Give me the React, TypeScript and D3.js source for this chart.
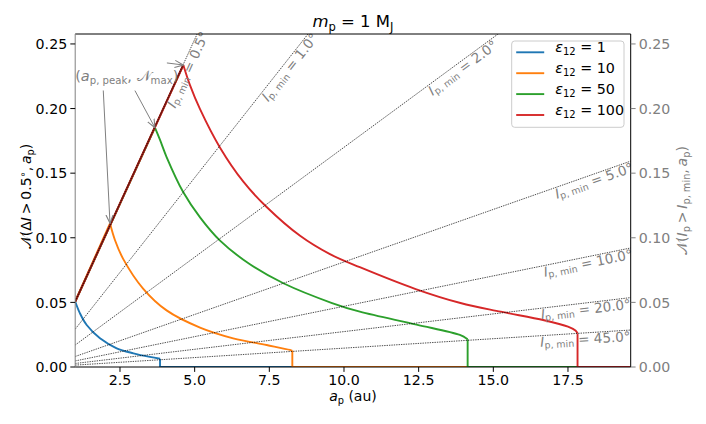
import React from 'react';
import * as d3 from 'd3';

const W = 706;
const H = 424;

// axes
const xDomain = [1, 19.6];
const yDomain = [0, 0.2577];
const xTicks = [2.5, 5, 7.5, 10, 12.5, 15, 17.5];
const yTicks = [0, 0.05, 0.1, 0.15, 0.2, 0.25];

// series (epsilon_12)
const epsLabels = ['1', '10', '50', '100'];
const colors = ['#1f77b4', '#ff7f0e', '#2ca02c', '#d62728'];
const startN = 0.0507; // value at a_p = 1

const blueA = [1, 1.16, 1.385, 1.83, 2.39, 2.95, 3.5, 3.84];
const blueN = [0.0507, 0.0415, 0.0325, 0.0222, 0.0145, 0.0106, 0.0078, 0.0064];

const orangeA = [2.165, 2.33, 2.61, 3.28, 4.06, 5.18, 6.29, 7.41, 8.19, 8.27];
const orangeN = [0.1112, 0.0983, 0.0835, 0.0605, 0.0438, 0.0305, 0.0222, 0.017, 0.0132, 0.0125];

const greenA = [3.67, 3.84, 4.06, 4.62, 5.18, 5.85, 6.85, 7.97, 9.6, 10.53, 12.43, 13.88, 14.14];
const greenN = [0.1852, 0.1757, 0.1625, 0.1352, 0.1158, 0.0978, 0.0795, 0.0648, 0.0495, 0.0428, 0.0328, 0.0248, 0.0215];

const redA = [4.62, 4.84, 5.18, 5.85, 6.63, 7.41, 8.53, 9.53, 10.53, 12.4, 13.9, 15.25, 16.7, 17.5, 17.75, 17.82];
const redN = [0.2337, 0.2183, 0.1995, 0.1697, 0.1434, 0.1238, 0.1015, 0.0873, 0.0772, 0.0603, 0.0495, 0.0428, 0.0362, 0.0312, 0.0282, 0.026];

const seriesA = [blueA, orangeA, greenA, redA];
const seriesN = [blueN, orangeN, greenN, redN];

// reference lines N = slope * a_p
const ipLabels = ['0.5', '1.0', '2.0', '5.0', '10.0', '20.0', '45.0'];
const ipSlopes = [0.0507, 0.0293, 0.017, 0.00813, 0.0047, 0.00274, 0.00146];
const ipLabelA = [4.58, 8.02, 13.85, 18.3, 18.13, 18.07, 18.07];

// annotation arrow tails (data coords) pointing at peaks of eps = 10, 50, 100
const arrowTailA = [1.94, 3.0, 4.07];
const arrowTailN = [0.214, 0.2139, 0.2353];

const M = { left: 75.2, right: 630.7, top: 34, bottom: 367 };
const GRAY = '#808080';
const FONT = "'DejaVu Sans', sans-serif";
const TS = '\u2009';
const LW = 1.9;

type Part = { t: string; i?: boolean; sub?: boolean; sup?: boolean };

function MathParts({ parts, size }: { parts: Part[]; size: number }) {
  const out: any[] = [];
  let shift = 0;
  parts.forEach((p, k) => {
    const target = p.sub ? size * 0.22 : p.sup ? -size * 0.38 : 0;
    const dy = target - shift;
    shift = target;
    out.push(
      <tspan
        key={k}
        dy={dy}
        fontStyle={p.i ? 'italic' : 'normal'}
        fontSize={p.sub || p.sup ? size * 0.7 : size}
      >
        {p.t}
      </tspan>
    );
  });
  return <>{out}</>;
}

export default function App() {
  const x = d3.scaleLinear().domain(xDomain).range([M.left, M.right]);
  const y = d3.scaleLinear().domain(yDomain).range([M.bottom, M.top]);
  const kx = x(2) - x(1);
  const ky = y(0) - y(1);

  const lineLin = d3
    .line<[number, number]>()
    .x((d) => x(d[0]))
    .y((d) => y(d[1]));
  const lineSmooth = d3
    .line<[number, number]>()
    .x((d) => x(d[0]))
    .y((d) => y(d[1]))
    .curve(d3.curveCatmullRom.alpha(0.5));

  const peaks = seriesA.map((A, i) => [A[0], seriesN[i][0]] as [number, number]);

  const tickStyle = { fontFamily: FONT, fontSize: 14.2 };

  return (
    <svg
      width={W}
      height={H}
      style={{ position: 'fixed', left: 0, top: 0, background: '#fff' }}
      fontFamily={FONT}
    >
      <defs>
        <clipPath id="plot">
          <rect x={M.left} y={M.top} width={M.right - M.left} height={M.bottom - M.top} />
        </clipPath>
        <marker id="arr" viewBox="0 0 10 10" refX="9.5" refY="5" markerWidth="9" markerHeight="9" orient="auto" markerUnits="userSpaceOnUse">
          <path d="M0,1 L9.5,5 L0,9" fill="none" stroke={GRAY} strokeWidth={1.2} />
        </marker>
      </defs>
      <rect x={0} y={0} width={W} height={H} fill="#fff" />

      <g clipPath="url(#plot)">
        {seriesA.map((A, i) => {
          const N = seriesN[i];
          const pts = A.map((a, k) => [a, N[k]] as [number, number]);
          const last = A[A.length - 1];
          const rising: [number, number][] = [
            [xDomain[0], startN],
            [A[0], N[0]],
          ];
          const tail: [number, number][] = [
            [last, N[N.length - 1]],
            [last, 0],
            [xDomain[1] + 1, 0],
          ];
          return (
            <g key={i} fill="none" stroke={colors[i]} strokeWidth={LW} strokeLinejoin="round">
              {i > 0 && <path d={lineLin(rising) || ''} />}
              <path d={lineSmooth(pts) || ''} />
              <path d={lineLin(tail) || ''} />
            </g>
          );
        })}
        <path
          d={lineLin([[xDomain[0], startN], peaks[3]]) || ''}
          fill="none"
          stroke="#a02218"
          strokeWidth={LW}
        />
        {ipSlopes.map((s, i) => (
          <path
            key={i}
            d={lineLin([[xDomain[0], s * xDomain[0]], [xDomain[1], s * xDomain[1]]]) || ''}
            fill="none"
            stroke="#000"
            strokeWidth={0.7}
            strokeDasharray="1.4,1"
          />
        ))}
      </g>

      {ipSlopes.map((s, i) => {
        const a = ipLabelA[i];
        const px = x(a);
        const py = y(s * a);
        const ang = Math.atan((s * ky) / kx);
        const off = 6;
        const cx = px + off * Math.sin(ang);
        const cy = py + off * Math.cos(ang);
        const deg = (-ang * 180) / Math.PI;
        return (
          <text
            key={i}
            transform={`translate(${cx},${cy}) rotate(${deg})`}
            textAnchor="middle"
            dominantBaseline="central"
            fill={GRAY}
            fontSize={13.5}
          >
            <MathParts
              size={13.5}
              parts={[
                { t: 'I', i: true },
                { t: 'p, min', sub: true },
                { t: ' = ' + ipLabels[i] + '°' },
              ]}
            />
          </text>
        );
      })}

      <line x1={M.left} x2={M.right} y1={M.top} y2={M.top} stroke="#000" strokeWidth={1} />
      <line x1={M.left} x2={M.right} y1={M.bottom} y2={M.bottom} stroke="#000" strokeWidth={1} />
      <line x1={M.right} x2={M.right} y1={M.top} y2={M.bottom} stroke="#000" strokeWidth={1} />
      <line x1={M.left} x2={M.left} y1={M.top} y2={M.bottom} stroke={GRAY} strokeWidth={1} />

      {xTicks.map((t) => (
        <g key={t}>
          <line x1={x(t)} x2={x(t)} y1={M.bottom} y2={M.bottom + 4.9} stroke="#000" strokeWidth={1} />
          <text x={x(t)} y={M.bottom + 18} textAnchor="middle" style={tickStyle} fill="#000">
            {d3.format('.1f')(t)}
          </text>
        </g>
      ))}
      {yTicks.map((t) => (
        <g key={'l' + t}>
          <line x1={M.left - 4.9} x2={M.left} y1={y(t)} y2={y(t)} stroke="#000" strokeWidth={1} />
          <text x={M.left - 8} y={y(t)} dy="0.36em" textAnchor="end" style={tickStyle} fill="#000">
            {d3.format('.2f')(t)}
          </text>
        </g>
      ))}
      {yTicks.map((t) => (
        <g key={'r' + t}>
          <line x1={M.right} x2={M.right + 4.9} y1={y(t)} y2={y(t)} stroke={GRAY} strokeWidth={1} />
          <text x={M.right + 8} y={y(t)} dy="0.36em" textAnchor="start" style={tickStyle} fill={GRAY}>
            {d3.format('.2f')(t)}
          </text>
        </g>
      ))}

      <text x={(M.left + M.right) / 2} y={27} textAnchor="middle" fontSize={16.5} fill="#000">
        <MathParts
          size={16.5}
          parts={[
            { t: 'm', i: true },
            { t: 'p', sub: true },
            { t: ' = 1 M' },
            { t: 'J', sub: true },
          ]}
        />
      </text>

      <text x={(M.left + M.right) / 2} y={401} textAnchor="middle" fontSize={14} fill="#000">
        <MathParts size={14} parts={[{ t: 'a', i: true }, { t: 'p', sub: true }, { t: ' (au)' }]} />
      </text>

      <text transform={`translate(31,${(M.top + M.bottom) / 2 - 4}) rotate(-90)`} textAnchor="middle" fontSize={14} fill="#000">
        <MathParts
          size={14}
          parts={[
            { t: '𝒩(Δ' },
            { t: 'I', i: true },
            { t: TS + '>' + TS + '0.5' },
            { t: '∘', sup: true },
            { t: ',' + TS },
            { t: 'a', i: true },
            { t: 'p', sub: true },
            { t: ')' },
          ]}
        />
      </text>

      <text transform={`translate(687,${(M.top + M.bottom) / 2}) rotate(-90)`} textAnchor="middle" fontSize={14} fill={GRAY}>
        <MathParts
          size={14}
          parts={[
            { t: '𝒩(' },
            { t: 'I', i: true },
            { t: 'p', sub: true },
            { t: TS + '>' + TS },
            { t: 'I', i: true },
            { t: 'p, min', sub: true },
            { t: ',' + TS },
            { t: 'a', i: true },
            { t: 'p', sub: true },
            { t: ')' },
          ]}
        />
      </text>

      <text x={x(1.0)} y={y(0.2215)} fontSize={14.5} fill={GRAY}>
        <MathParts
          size={14.5}
          parts={[
            { t: '(' },
            { t: 'a', i: true },
            { t: 'p, peak', sub: true },
            { t: ', 𝒩' },
            { t: 'max', sub: true },
            { t: ')' },
          ]}
        />
      </text>
      {arrowTailA.map((a, i) => (
        <line
          key={i}
          x1={x(a)}
          y1={y(arrowTailN[i])}
          x2={x(peaks[i + 1][0])}
          y2={y(peaks[i + 1][1])}
          stroke={GRAY}
          strokeWidth={1}
          markerEnd="url(#arr)"
        />
      ))}

      <g transform="translate(511.7,41)">
        <rect x={0} y={0} width={112.3} height={86.3} rx={3} fill="#fff" fillOpacity={0.8} stroke="#cccccc" strokeWidth={1} />
        {epsLabels.map((e, i) => (
          <g key={i} transform={`translate(0,${11.3 + i * 20.9})`}>
            <line x1={4.5} x2={32.5} y1={0} y2={0} stroke={colors[i]} strokeWidth={LW} />
            <text x={43.5} y={0} dy="0.36em" fontSize={14.3} fill="#000">
              <MathParts size={14.3} parts={[{ t: 'ε', i: true }, { t: '12', sub: true }, { t: ' = ' + e }]} />
            </text>
          </g>
        ))}
      </g>
    </svg>
  );
}
